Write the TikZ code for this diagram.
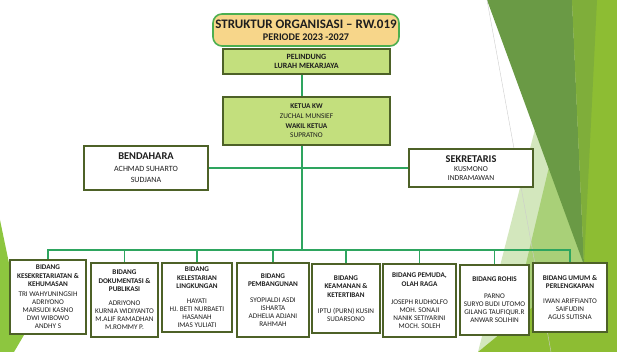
\documentclass[tikz,border=0pt]{standalone}
\usepackage{fontspec}
\setmainfont{Carlito}
\usetikzlibrary{shadows}
\definecolor{leftgreen}{HTML}{8DC63F}
\definecolor{paleg}{HTML}{D3E7BD}
\definecolor{medg}{HTML}{A9D078}
\definecolor{brightg}{HTML}{8DBD33}
\definecolor{darkg}{HTML}{6A9A45}
\definecolor{midg}{HTML}{7FAE3A}
\definecolor{titlefill}{HTML}{F7D68A}
\definecolor{titleborder}{HTML}{4CAF50}
\definecolor{boxfill}{HTML}{C3DF7D}
\definecolor{boxborder}{HTML}{4D6127}
\definecolor{conncol}{HTML}{2EA55F}
\definecolor{txt}{HTML}{1E1E1E}
\begin{document}
\begin{tikzpicture}[x=1pt,y=-1pt,
  conn/.style={draw=conncol, line width=1.5pt},
  shad/.style={drop shadow={shadow xshift=1.2pt, shadow yshift=-1.2pt, opacity=0.35, fill=black}},
  greenbox/.style={draw=boxborder, line width=1.6pt, fill=boxfill, align=center, inner sep=0pt, text=txt, shad},
  whitebox/.style={draw=boxborder, line width=1.6pt, fill=white, align=center, inner sep=0pt, text=txt, shad},
  bbox/.style={whitebox, font=\fontsize{7.2}{8}\selectfont},
]
\useasboundingbox (0,0) rectangle (617,352);
% background facets
\fill[leftgreen] (0,220) -- (24,335) -- (14,352) -- (0,352) -- cycle;
\fill[paleg] (545,90) -- (590,262) -- (478,352) -- cycle;
\fill[medg] (553,150) -- (590,262) -- (505,352) -- cycle;
\fill[brightg] (572,0) -- (617,0) -- (617,352) -- (478,352) -- (584,265) -- cycle;
\fill[darkg] (487,0) -- (572,0) -- (584,265) -- cycle;
\fill[midg] (572,0) -- (597,0) -- (584,265) -- cycle;
\draw[black!20, line width=0.4pt] (487,0) -- (551,352);

\coordinate (busy) at (0,250);

% top nodes
\node[draw=titleborder, line width=1.6pt, fill=titlefill, rounded corners=9pt,
      minimum width=186pt, minimum height=32pt, align=center, inner sep=0pt, text=txt] (title) at (306,30)
  {{\fontsize{13}{14}\bfseries STRUKTUR ORGANISASI – RW.019}\\[0pt]
   {\fontsize{10.2}{11}\bfseries PERIODE 2023 -2027}};
\node[greenbox, minimum width=167pt, minimum height=25pt, font=\fontsize{8}{9}\selectfont\bfseries] (pel) at (306.5,61.5)
  {PELINDUNG\\LURAH MEKARJAYA};
\node[greenbox, minimum width=167pt, minimum height=48pt, font=\fontsize{7.3}{9.7}\selectfont] (ketua) at (306.5,121)
  {\textbf{KETUA KW}\\ZUCHAL MUNSIEF\\\textbf{WAKIL KETUA}\\SUPRATNO};
\node[whitebox, minimum width=124pt, minimum height=44pt, font=\fontsize{8}{11.5}\selectfont] (bend) at (146,168)
  {{\fontsize{10.4}{11}\bfseries BENDAHARA}\\ACHMAD SUHARTO\\SUDJANA};
\node[whitebox, minimum width=124pt, minimum height=38pt, font=\fontsize{7.6}{9.3}\selectfont] (sek) at (471,168)
  {{\fontsize{10.4}{11}\bfseries SEKRETARIS}\\KUSMONO\\INDRAMAWAN};

% bottom boxes
\node[bbox, minimum width=76pt, minimum height=74pt] (b1) at (48,297)
  {\textbf{BIDANG}\\[0.5pt]\textbf{KESEKRETARIATAN \&}\\[0.5pt]\textbf{KEHUMASAN}\\[2pt]TRI WAHYUNINGSIH\\ADRIYONO\\MARSUDI KASNO\\DWI WIBOWO\\ANDHY S};
\node[bbox, minimum width=67pt, minimum height=74pt] (b2) at (124.5,300)
  {\textbf{BIDANG}\\[0.5pt]\textbf{DOKUMENTASI \&}\\[0.5pt]\textbf{PUBLIKASI}\\[6pt]ADRIYONO\\KURNIA WIDIYANTO\\M.ALIF RAMADHAN\\M.ROMMY P.};
\node[bbox, minimum width=70pt, minimum height=69pt] (b3) at (197,297.5)
  {\textbf{BIDANG}\\[0.5pt]\textbf{KELESTARIAN}\\[0.5pt]\textbf{LINGKUNGAN}\\[7pt]HAYATI\\HJ. BETI NURBAETI\\HASANAH\\IMAS YULIATI};
\node[bbox, minimum width=72pt, minimum height=74pt] (b4) at (273,300)
  {\textbf{BIDANG}\\[0.5pt]\textbf{PEMBANGUNAN}\\[8pt]SYOPIALDI ASDI\\ISHARTA\\ADHELIA ADJANI\\RAHMAH};
\node[bbox, minimum width=68pt, minimum height=69pt] (b5) at (346,298.5)
  {\textbf{BIDANG}\\[0.5pt]\textbf{KEAMANAN \&}\\[0.5pt]\textbf{KETERTIBAN}\\[8pt]IPTU (PURN) KUSIN\\SUDARSONO};
\node[bbox, minimum width=73pt, minimum height=73pt] (b6) at (419.5,300.5)
  {\textbf{BIDANG PEMUDA,}\\[0.5pt]\textbf{OLAH RAGA}\\[10pt]JOSEPH RUDHOLFO\\MOH. SONAJI\\NANIK SETIYARINI\\MOCH. SOLEH};
\node[bbox, minimum width=69pt, minimum height=70pt] (b7) at (494.5,300)
  {\textbf{BIDANG ROHIS}\\[9pt]PARNO\\SURYO BUDI UTOMO\\GILANG TAUFIQUR.R\\ANWAR SOLIHIN};
\node[bbox, minimum width=74pt, minimum height=69pt] (b8) at (570,297.5)
  {\textbf{BIDANG UMUM \&}\\[0.5pt]\textbf{PERLENGKAPAN}\\[7pt]IWAN ARIFFIANTO\\SAIFUDIN\\AGUS SUTISNA};

% connectors
\draw[conn] ([xshift=-4.5pt]pel.south) -- ([xshift=-4.5pt]ketua.north);
\draw[conn] (bend.east) -- (sek.west);
\draw[conn] ([xshift=-4.5pt]ketua.south) -- ([xshift=-4.5pt]ketua.south |- busy);
\draw[conn] (b1.north) -- (b1.north |- busy) -- (b8.north |- busy) -- (b8.north);
\foreach \b in {b2,b3,b4,b5,b6,b7} {
  \draw[conn] (\b.north) -- (\b.north |- busy);
}
\end{tikzpicture}
\end{document}
